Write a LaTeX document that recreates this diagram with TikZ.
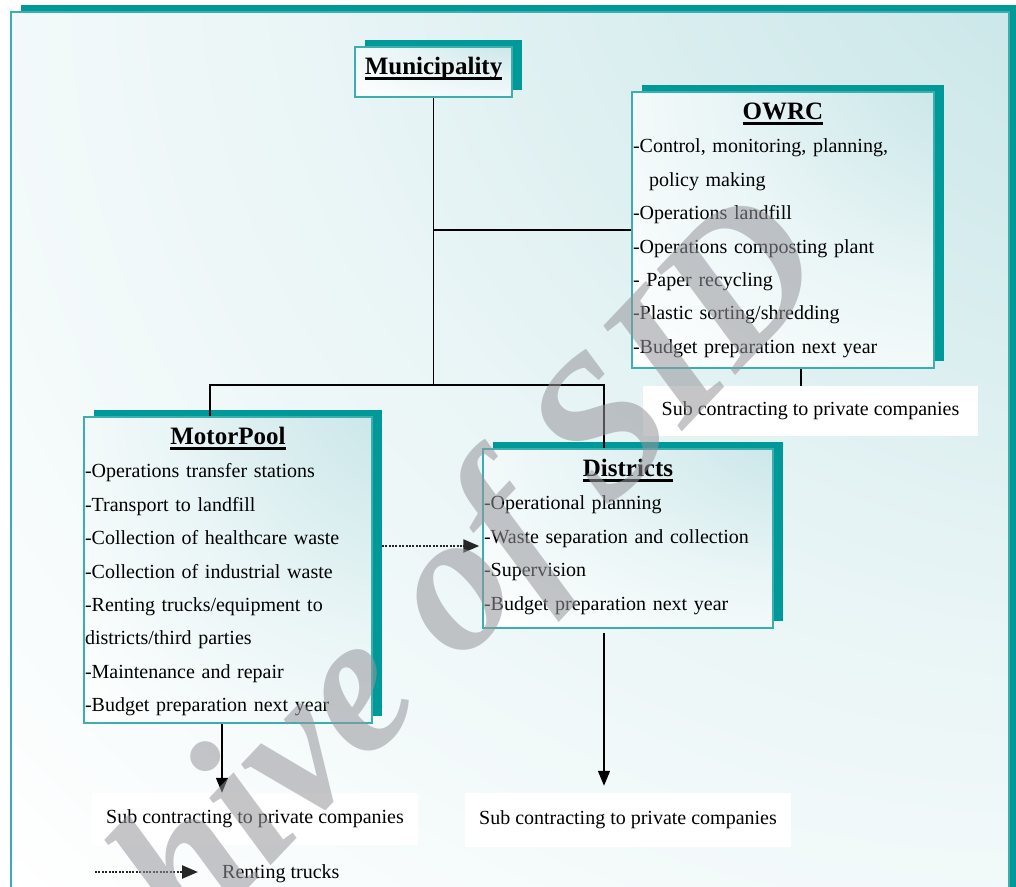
\documentclass[tikz,border=0pt]{standalone}
\usepackage{fontspec}
\setmainfont{Liberation Serif}
\usetikzlibrary{arrows.meta, positioning, shadows, calc}
\definecolor{tealdeep}{RGB}{0,153,153}
\definecolor{tealrim}{RGB}{60,174,174}
\definecolor{tealmist}{RGB}{186,223,226}
\definecolor{stampgray}{RGB}{150,150,156}

% pale teal glow from the top right corner
\pgfdeclareradialshading{cornerglow}{\pgfpoint{50bp}{50bp}}{%
    color(0bp)=(tealmist); color(20bp)=(tealmist!75!white);
    color(40bp)=(tealmist!32!white); color(62bp)=(white); color(100bp)=(white)}

% underlined box title
\newlength{\headwd}
\newcommand{\headline}[1]{\settowidth{\headwd}{#1}\rlap{\rule[-6pt]{\headwd}{3pt}}#1}

\begin{document}
\begin{tikzpicture}[
    x=1pt, y=-1pt,
    >={Triangle[length=15pt, width=12pt]},
    frame/.style={
        draw=tealrim, line width=1.2pt, shade, shading=cornerglow,
        general shadow={fill=tealdeep, shadow xshift=10pt, shadow yshift=7pt}
    },
    unit/.style={
        rectangle, draw=tealrim, line width=1.5pt, inner sep=0pt,
        shade, shading=cornerglow,
        general shadow={fill=tealdeep, shadow xshift=10pt, shadow yshift=7pt}
    },
    heading/.style={font=\fontsize{25}{30}\selectfont\bfseries, inner sep=0pt, text height=18pt, text depth=7pt},
    duty/.style={font=\fontsize{20}{24}\selectfont, inner sep=0pt, text height=15pt, text depth=5pt, text width=#1, align=left},
    note/.style={font=\fontsize{20}{24}\selectfont, fill=white, inner xsep=14pt, inner ysep=0pt},
    link/.style={line width=1.8pt},
    drop/.style={->, line width=1.2pt},
    rent/.style={-{Triangle[length=16pt, width=13pt]}, line width=2.4pt, dash pattern=on 2pt off 1.4pt, color=black!85},
    watermark/.style={font=\fontsize{198}{198}\selectfont\bfseries\itshape, text=stampgray, opacity=0.55, rotate=46.5}
]

\useasboundingbox (0,0) rectangle (1016,886);
\clip (0,0) rectangle (1016,886);

% Page frame
\path[frame] (11,12) rectangle (1009,905);

% Municipality
\node[unit, minimum width=157pt, minimum height=50pt] (municipality) at (433.5,72) {};
\node[heading, below=10pt of municipality.north] (muni-title) {\headline{Municipality}};

% OWRC
\node[unit, minimum width=302pt, minimum height=276pt] (owrc) at (783,230) {};
\node[heading, below=10pt of owrc.north] (owrc-title) {\headline{OWRC}};
\node[duty=300pt, below=11pt of owrc-title] (owrc-1) {-Control, monitoring, planning,};
\node[duty=300pt, below=13pt of owrc-1] (owrc-2) {\hspace*{16pt}policy making};
\node[duty=300pt, below=13pt of owrc-2] (owrc-3) {-Operations landfill};
\node[duty=300pt, below=13pt of owrc-3] (owrc-4) {-Operations composting plant};
\node[duty=300pt, below=13pt of owrc-4] (owrc-5) {- Paper recycling};
\node[duty=300pt, below=13pt of owrc-5] (owrc-6) {-Plastic sorting/shredding};
\node[duty=300pt, below=13pt of owrc-6] (owrc-7) {-Budget preparation next year};
\node[note, minimum width=335pt, minimum height=50pt, below=17pt of owrc.south, xshift=27.5pt] (owrc-sub) {Sub contracting to private companies};

% MotorPool
\node[unit, minimum width=288pt, minimum height=306pt] (motorpool) at (228,570) {};
\node[heading, below=10pt of motorpool.north] (mp-title) {\headline{MotorPool}};
\node[duty=286pt, below=11pt of mp-title] (mp-1) {-Operations transfer stations};
\node[duty=286pt, below=13pt of mp-1] (mp-2) {-Transport to landfill};
\node[duty=286pt, below=13pt of mp-2] (mp-3) {-Collection of healthcare waste};
\node[duty=286pt, below=13pt of mp-3] (mp-4) {-Collection of industrial waste};
\node[duty=286pt, below=13pt of mp-4] (mp-5) {-Renting trucks/equipment to};
\node[duty=286pt, below=13pt of mp-5] (mp-6) {districts/third parties};
\node[duty=286pt, below=13pt of mp-6] (mp-7) {-Maintenance and repair};
\node[duty=286pt, below=13pt of mp-7] (mp-8) {-Budget preparation next year};
\node[note, minimum height=52pt, below=69pt of motorpool.south, xshift=27pt] (mp-sub) {Sub contracting to private companies};

% Districts
\node[unit, minimum width=290pt, minimum height=179pt] (districts) at (628,538.5) {};
\node[heading, below=10pt of districts.north] (d-title) {\headline{Districts}};
\node[duty=288pt, below=11pt of d-title] (d-1) {-Operational planning};
\node[duty=288pt, below=13pt of d-1] (d-2) {-Waste separation and collection};
\node[duty=288pt, below=13pt of d-2] (d-3) {-Supervision};
\node[duty=288pt, below=13pt of d-3] (d-4) {-Budget preparation next year};
\node[note, minimum height=54pt, below=164pt of districts.south] (d-sub) {Sub contracting to private companies};

% Tree lines
\coordinate (split) at (433.5,385);
\draw[link] (municipality.south) -- (split);
\draw[link] (municipality.south |- owrc.west) -- (owrc.west);
\draw[link] ($(motorpool.north)+(-18,0)$) |- (split) -| ($(districts.north)+(-24,0)$);
\draw[link, line width=1.5pt] ($(owrc.south)+(18,0)$) -- ($(owrc.south |- owrc-sub.north)+(18,0)$);

% Arrows
\draw[rent] ($(motorpool.east)+(9,-24)$) -- ($(districts.west)+(-3,7.5)$);
\draw[drop] ($(motorpool.south)+(-6,0)$) -- ($(motorpool.south |- mp-sub.north)+(-6,0)$);
\draw[drop, line width=1.5pt, shorten <=4pt, shorten >=7pt] ($(districts.south)+(-24,0)$) -- ($(districts.south |- d-sub.north)+(-24,0)$);

% Key
\node[font=\fontsize{20}{24}\selectfont, inner sep=0pt, anchor=west] (key) at (222,874) {Renting trucks};
\coordinate (key-start) at (95,872);
\draw[rent, shorten >=24pt] (key-start) -- (key.west |- key-start);

% Stamp
\node[watermark] (stamp) at (376,684) {Archive of SID};

\end{tikzpicture}
\end{document}
